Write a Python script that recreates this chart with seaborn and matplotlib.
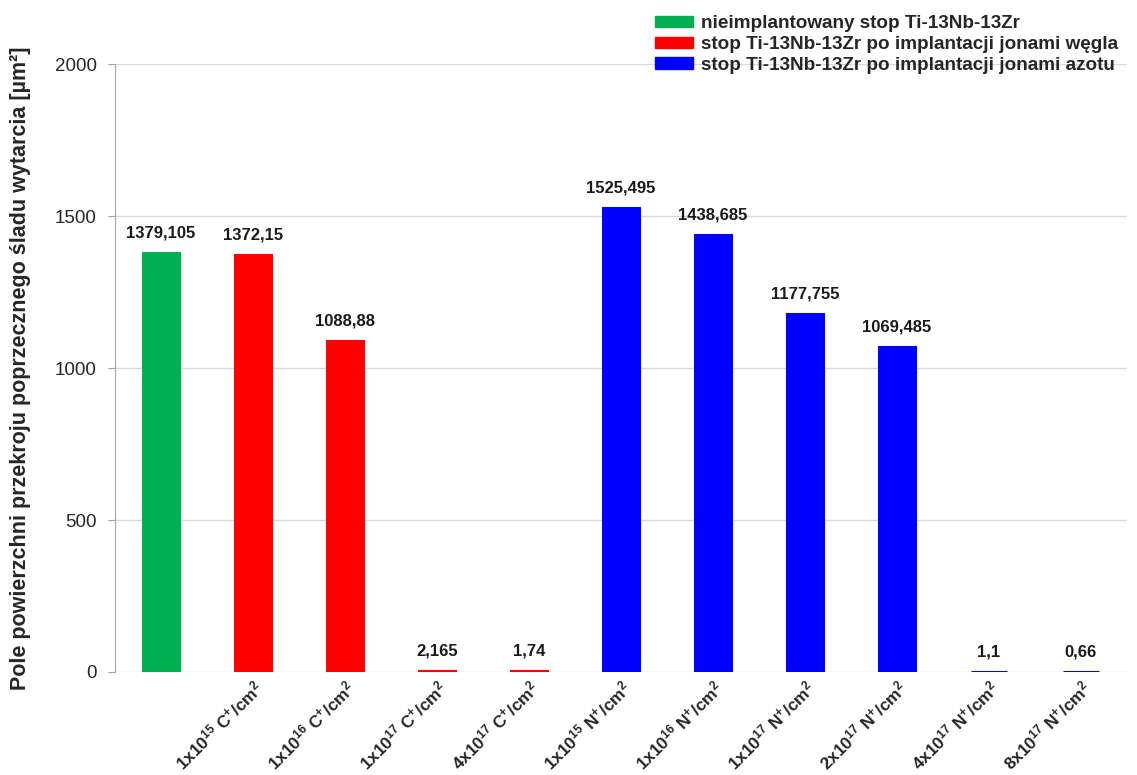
import matplotlib
matplotlib.use("Agg")
import matplotlib.pyplot as plt
import seaborn as sns
import pandas as pd

# dane
labels = ["",
          r"$\mathbf{1x10^{15}\ C^{+}/cm^{2}}$",
          r"$\mathbf{1x10^{16}\ C^{+}/cm^{2}}$",
          r"$\mathbf{1x10^{17}\ C^{+}/cm^{2}}$",
          r"$\mathbf{4x10^{17}\ C^{+}/cm^{2}}$",
          r"$\mathbf{1x10^{15}\ N^{+}/cm^{2}}$",
          r"$\mathbf{1x10^{16}\ N^{+}/cm^{2}}$",
          r"$\mathbf{1x10^{17}\ N^{+}/cm^{2}}$",
          r"$\mathbf{2x10^{17}\ N^{+}/cm^{2}}$",
          r"$\mathbf{4x10^{17}\ N^{+}/cm^{2}}$",
          r"$\mathbf{8x10^{17}\ N^{+}/cm^{2}}$"]
values = [1379.105, 1372.15, 1088.88, 2.165, 1.74,
          1525.495, 1438.685, 1177.755, 1069.485, 1.1, 0.66]
value_text = ["1379,105", "1372,15", "1088,88", "2,165", "1,74",
              "1525,495", "1438,685", "1177,755", "1069,485", "1,1", "0,66"]
groups_names = ["nieimplantowany stop Ti-13Nb-13Zr",
                "stop Ti-13Nb-13Zr po implantacji jonami węgla",
                "stop Ti-13Nb-13Zr po implantacji jonami azotu"]
group = [groups_names[0]] + [groups_names[1]] * 4 + [groups_names[2]] * 6
colors = ["#00B050", "#FF0000", "#0000FF"]

df = pd.DataFrame({"label": labels, "value": values, "group": group})

sns.set_style("white")
plt.rcParams["font.family"] = ["Liberation Sans", "DejaVu Sans"]
plt.rcParams["mathtext.fontset"] = "custom"
plt.rcParams["mathtext.rm"] = "Liberation Sans"
plt.rcParams["mathtext.bf"] = "Liberation Sans:bold"
plt.rcParams["mathtext.it"] = "Liberation Sans:italic"

fig = plt.figure(figsize=(11.37, 7.75), dpi=100)
ax = fig.add_axes([0.101, 0.133, 0.890, 0.784])

pal = dict(zip(groups_names, colors))
sns.barplot(data=df, x="label", y="value", hue="group",
            palette=pal, dodge=False, width=0.39, saturation=1,
            ax=ax, legend=False, zorder=3)
# obwódka w kolorze słupka, żeby najmniejsze słupki były widoczne
for patch in ax.patches:
    patch.set_edgecolor(patch.get_facecolor())
    patch.set_linewidth(2.2)

for i, (v, t) in enumerate(zip(values, value_text)):
    ax.annotate(t, (i, v), xytext=(0, 9), textcoords="offset points",
                ha="center", va="bottom", fontsize=12, fontweight="bold",
                color="#1a1a1a")

ax.set_ylim(0, 2000)
ax.set_xlim(-0.5, len(values) - 0.5)
ax.set_yticks([0, 500, 1000, 1500, 2000])
ax.yaxis.grid(True, color="#d9d9d9", linewidth=1, zorder=0)
ax.set_axisbelow(True)
for s in ["top", "right", "bottom"]:
    ax.spines[s].set_visible(False)
ax.spines["left"].set_color("#a6a6a6")
ax.tick_params(axis="y", left=True, length=5, color="#a6a6a6",
               labelsize=13.5, labelcolor="#262626", pad=8)
ax.tick_params(axis="x", bottom=False, labelsize=12.4)
plt.setp(ax.get_xticklabels(), rotation=45, ha="right",
         rotation_mode="anchor")
for lab in ax.get_xticklabels():
    lab.set_transform(lab.get_transform() +
                      matplotlib.transforms.ScaledTranslation(0.0, 0.04, fig.dpi_scale_trans))

ax.set_xlabel("")
ax.set_ylabel("Pole powierzchni przekroju poprzecznego śladu wytarcia [µm²]",
              fontsize=15.5, fontweight="bold", labelpad=17)

handles = [matplotlib.patches.Patch(color=c) for c in colors]
leg = fig.legend(handles, groups_names, loc="upper left",
                 bbox_to_anchor=(0.563, 1.0), frameon=False,
                 prop={"weight": "bold", "size": 13.6}, handlelength=2.0,
                 handleheight=0.55, labelspacing=0.2, handletextpad=0.4,
                 borderpad=0.3)

fig.savefig("out.png", dpi=100)
